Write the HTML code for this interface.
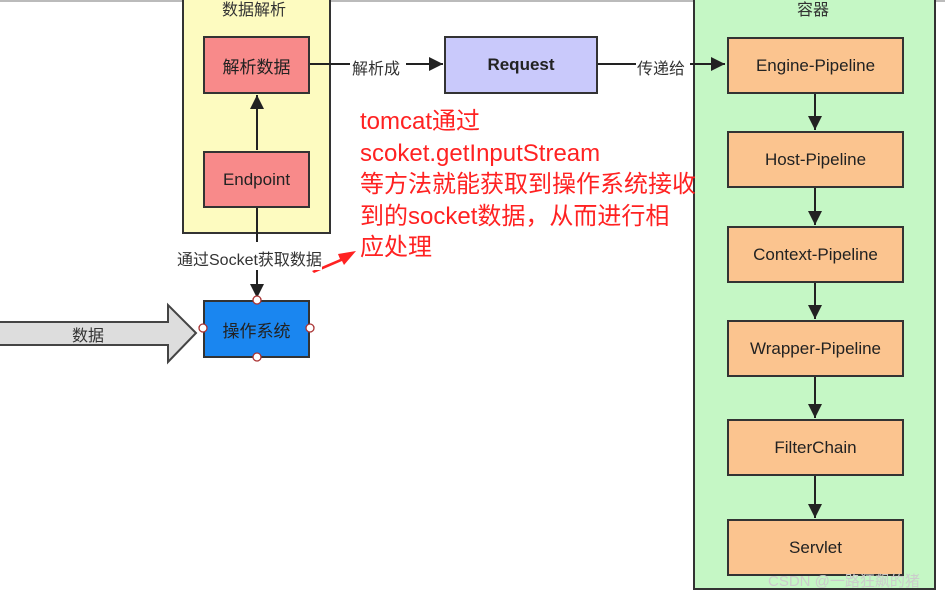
<!DOCTYPE html>
<html><head><meta charset="utf-8"><style>
body{margin:0;width:945px;height:596px;background:#fff;position:relative;overflow:hidden;font-family:"Liberation Sans","Noto Sans CJK SC",sans-serif;}
.b{position:absolute;box-sizing:border-box;border:2px solid #333;display:flex;align-items:center;justify-content:center;font-size:17px;color:#222;}
.t{position:absolute;font-size:16px;color:#333;white-space:nowrap;}
</style></head><body>
<div style="position:absolute;left:0;top:0;width:945px;height:2px;background:#bbb"></div>
<div class="b" style="left:182px;top:-4px;width:149px;height:238px;background:#fdfbc0;"></div>
<div class="t" style="left:222px;top:-4px;">数据解析</div>
<div class="b" style="left:693px;top:-4px;width:243px;height:594px;background:#c5f7c5;"></div>
<div class="t" style="left:797px;top:-4px;">容器</div>
<div class="b" style="left:203px;top:36px;width:107px;height:58px;background:#f88a8a;">解析数据</div>
<div class="b" style="left:203px;top:151px;width:107px;height:57px;background:#f88a8a;">Endpoint</div>
<div class="b" style="left:203px;top:300px;width:107px;height:58px;background:#1a86f0;">操作系统</div>
<div class="b" style="left:444px;top:36px;width:154px;height:58px;background:#c9c9fb;font-weight:bold;">Request</div>
<div class="b" style="left:727px;top:37px;width:177px;height:57px;background:#fbc48f;">Engine-Pipeline</div>
<div class="b" style="left:727px;top:131px;width:177px;height:57px;background:#fbc48f;">Host-Pipeline</div>
<div class="b" style="left:727px;top:226px;width:177px;height:57px;background:#fbc48f;">Context-Pipeline</div>
<div class="b" style="left:727px;top:320px;width:177px;height:57px;background:#fbc48f;">Wrapper-Pipeline</div>
<div class="b" style="left:727px;top:419px;width:177px;height:57px;background:#fbc48f;">FilterChain</div>
<div class="b" style="left:727px;top:519px;width:177px;height:57px;background:#fbc48f;">Servlet</div>
<svg width="945" height="596" style="position:absolute;left:0;top:0">
<defs>
<marker id="ah" viewBox="0 0 10 10" markerWidth="14" markerHeight="14" refX="10" refY="5" orient="auto" markerUnits="userSpaceOnUse"><path d="M0,0 L10,5 L0,10z" fill="#222"/></marker></defs>
<path d="M0,322 H168 V305 L196,333 L168,362 V345 H0" fill="#ddd" stroke="#444" stroke-width="2"/>
<line x1="310" y1="64" x2="350" y2="64" stroke="#222" stroke-width="2"/>
<line x1="406" y1="64" x2="443" y2="64" stroke="#222" stroke-width="2" marker-end="url(#ah)"/>
<line x1="598" y1="64" x2="636" y2="64" stroke="#222" stroke-width="2"/>
<line x1="690" y1="64" x2="725" y2="64" stroke="#222" stroke-width="2" marker-end="url(#ah)"/>
<line x1="257" y1="150" x2="257" y2="95" stroke="#222" stroke-width="2" marker-end="url(#ah)"/>
<line x1="257" y1="208" x2="257" y2="242" stroke="#222" stroke-width="2"/>
<line x1="257" y1="268" x2="257" y2="298" stroke="#222" stroke-width="2" marker-end="url(#ah)"/>
<g stroke="#222" stroke-width="2">
<line x1="815" y1="94" x2="815" y2="130" marker-end="url(#ah)"/>
<line x1="815" y1="188" x2="815" y2="225" marker-end="url(#ah)"/>
<line x1="815" y1="283" x2="815" y2="319" marker-end="url(#ah)"/>
<line x1="815" y1="377" x2="815" y2="418" marker-end="url(#ah)"/>
<line x1="815" y1="476" x2="815" y2="518" marker-end="url(#ah)"/>
</g>
<g fill="#fff" stroke="#a33" stroke-width="1.3">
<circle cx="257" cy="300" r="4"/><circle cx="257" cy="357" r="4"/><circle cx="203" cy="328" r="4"/><circle cx="310" cy="328" r="4"/></g>
<polygon points="312,271 340,259 338,254 356,251 344,265 342,261 314,273" fill="#f22"/>
</svg>
<div class="t" style="left:352px;top:55px;">解析成</div>
<div class="t" style="left:637px;top:55px;">传递给</div>
<div class="t" style="left:177px;top:246px;background:#fff;">通过Socket获取数据</div>
<div class="t" style="left:72px;top:322px;">数据</div>
<div style="position:absolute;left:360px;top:106px;font-size:24px;line-height:31.5px;color:#f22;white-space:nowrap;">tomcat通过<br>scoket.getInputStream<br>等方法就能获取到操作系统接收<br>到的socket数据，从而进行相<br>应处理</div>
<div style="position:absolute;left:768px;top:570px;font-size:15px;color:#ccc;">CSDN @一路狂飙的猪</div>
</body></html>
